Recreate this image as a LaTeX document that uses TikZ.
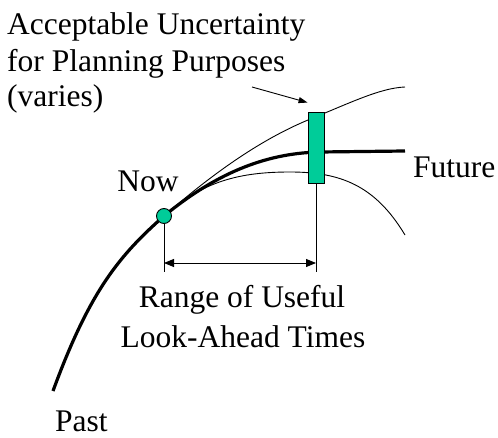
\documentclass[tikz,border=0pt]{standalone}
\usepackage{fontspec}
\setmainfont{Liberation Serif}
\usetikzlibrary{arrows.meta,calc}
\definecolor{teal1}{RGB}{0,204,153}
\begin{document}
\begin{tikzpicture}[x=1pt,y=-1pt,
  lbl/.style={inner sep=0pt,font=\fontsize{31.5}{36}\selectfont},
  thin/.style={line width=0.9pt},
  thickc/.style={line width=3.2pt},
  dim/.style={line width=0.9pt,{Triangle[length=10pt,width=8pt]}-{Triangle[length=10pt,width=8pt]}},
  ptr/.style={line width=0.9pt,-{Triangle[length=9pt,width=6pt]}}]
\useasboundingbox (0,0) rectangle (498,438);
% curves
\draw[thin] (164,216) .. controls (212,174) and (260,140) .. (308,120) .. controls (350,103) and (380,88) .. (405,87);
\draw[thin] (164,216) .. controls (203,181) and (240,172) .. (290,172) .. controls (340,172) and (375,185) .. (405,235);
\draw[thickc] (53,391) .. controls (90,290) and (120,255) .. (164,216) .. controls (220,170) and (270,153) .. (320,152) -- (405,151);
% bar and now point
\node[draw,thin,fill=teal1,minimum width=16pt,minimum height=71pt,inner sep=0pt] (bar) at (316,147.5) {};
\node[draw,thin,fill=teal1,circle,minimum size=15pt,inner sep=0pt] (now) at (164,216) {};
% extension lines
\coordinate (nowb) at (164,272);
\coordinate (barb) at (316,272);
\draw[thin] (now.south) -- (nowb);
\draw[thin] (bar.south) -- (barb);
\coordinate (dl) at (164,263);
\coordinate (dr) at (316,263);
\draw[dim] (dl) -- (dr);
% pointer
\coordinate (ptrs) at (252,87);
\coordinate (ptre) at ($(bar.north west)+(0,-9)$);
\draw[ptr] (ptrs) -- (ptre);
% labels
\node[lbl,anchor=base west] (t1) at (7,35) {Acceptable Uncertainty};
\node[lbl,anchor=base west] (t2) at (7,72) {for Planning Purposes};
\node[lbl,anchor=base west] (t3) at (7,107) {(varies)};
\node[lbl,anchor=base] (tnow) at (148,192) {Now};
\node[lbl,anchor=base west] (tfut) at (413,178) {Future};
\node[lbl,anchor=base] (tr1) at (242,308) {Range of Useful};
\node[lbl,anchor=base] (tr2) at (243,347) {Look-Ahead Times};
\node[lbl,anchor=base west] (tpast) at (55,431) {Past};
\end{tikzpicture}
\end{document}
